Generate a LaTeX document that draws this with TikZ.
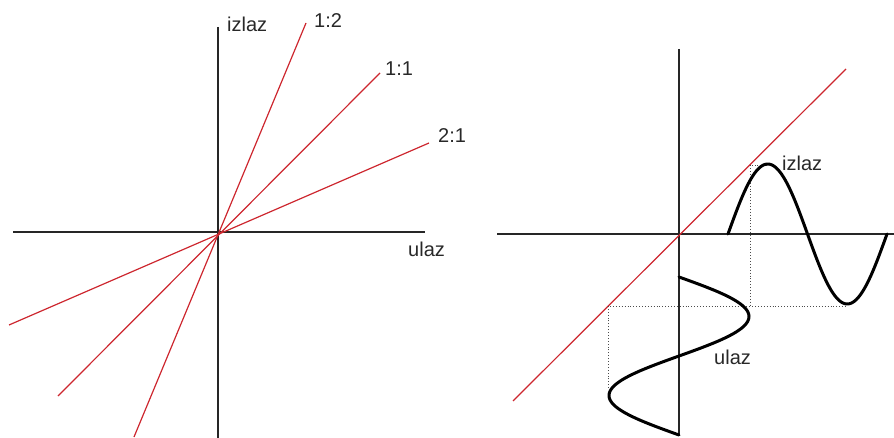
\documentclass[tikz,border=0pt]{standalone}
\usepackage{fontspec}
\setmainfont{Liberation Sans}
\usetikzlibrary{positioning}
\definecolor{linered}{RGB}{205, 38, 46}
\definecolor{textgray}{RGB}{40, 40, 40}

\begin{document}
\begin{tikzpicture}[x=1pt, y=-1pt,
		axis/.style={draw=black!85, line width=1.3pt},
		ratio/.style={draw=linered, line width=1.2pt},
		wave/.style={draw=black, line width=3pt, line cap=round},
		guide/.style={draw=black!70, dotted, line width=0.9pt},
		lbl/.style={anchor=base west, inner sep=0pt, text=textgray, font=\fontsize{20}{22}\selectfont}
	]
	\useasboundingbox (0,0) rectangle (894,438);

	% Left panel - axes
	\coordinate (o1) at (218,232);
	\coordinate (xl1) at (13,232);
	\coordinate (xr1) at (425,232);
	\coordinate (yt1) at (218,27);
	\coordinate (yb1) at (218,438);
	\draw[axis] (xl1) -- (xr1);
	\draw[axis] (yt1) -- (yb1);

	% Left panel - ratio lines
	\coordinate (r12a) at (134,437);
	\coordinate (r12b) at (306,23);
	\coordinate (r11a) at (58,396);
	\coordinate (r11b) at (380,73);
	\coordinate (r21a) at (9,325);
	\coordinate (r21b) at (429,143);
	\draw[ratio] (r12a) -- (r12b);
	\draw[ratio] (r11a) -- (r11b);
	\draw[ratio] (r21a) -- (r21b);

	% Left panel - labels
	\node[lbl] (izlaz1) at (227,32) {izlaz};
	\node[lbl] (ulaz1) at (408,257) {ulaz};
	\node[lbl] (l12) at (314,28) {1:2};
	\node[lbl] (l11) at (385,76) {1:1};
	\node[lbl] (l21) at (438,143) {2:1};

	% Right panel - axes
	\coordinate (o2) at (679,234);
	\coordinate (xl2) at (497,234);
	\coordinate (xr2) at (894,234);
	\coordinate (yt2) at (679,49);
	\coordinate (yb2) at (679,436);
	\draw[axis] (xl2) -- (xr2);
	\draw[axis] (yt2) -- (yb2);

	% Right panel - transfer line
	\coordinate (ta) at (513,401);
	\coordinate (tb) at (846,69);
	\draw[ratio] (ta) -- (tb);

	% Right panel - guides
	\coordinate (g1) at (608,306);
	\coordinate (g2) at (608,388);
	\coordinate (g3) at (847,306);
	\coordinate (g4) at (750,165);
	\coordinate (g5) at (750,306);
	\coordinate (g6) at (767,165);
	\draw[guide] (g2) -- (g1) -- (g3);
	\draw[guide] (g6) -- (g4) -- (g5);

	% Right panel - signals
	\draw[wave] plot[domain=0:360, samples=90, smooth] ({728+\x/360*159}, {234-70*sin(\x)});
	\draw[wave] plot[domain=0:360, samples=90, smooth] ({679+70*sin(\x)}, {277+\x/360*158});

	% Right panel - labels
	\node[lbl] (izlaz2) at (782,171) {izlaz};
	\node[lbl] (ulaz2) at (714,364) {ulaz};

\end{tikzpicture}
\end{document}
